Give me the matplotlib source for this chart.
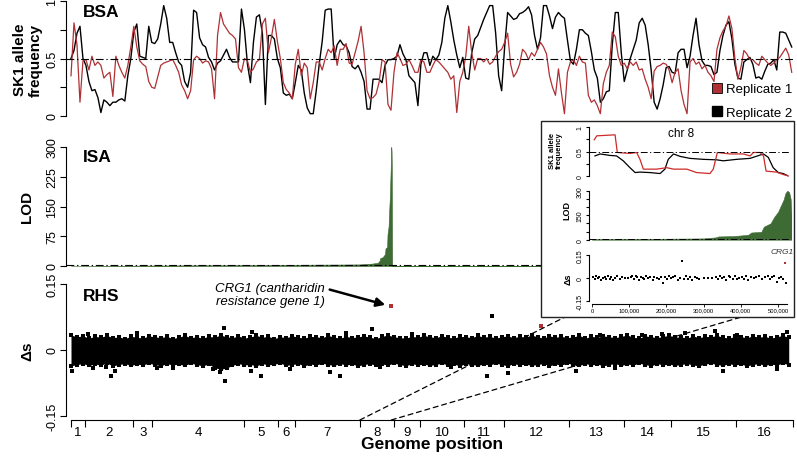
import numpy as np
import matplotlib
matplotlib.use('Agg')
import matplotlib.pyplot as plt
from matplotlib.patches import Rectangle, ConnectionPatch
from matplotlib.lines import Line2D

plt.rcParams['font.family'] = ['Liberation Sans', 'DejaVu Sans']

# ---- data ----
chrom_names = [str(i) for i in range(1, 17)]
chrom_kb = [230.2, 813.2, 316.6, 1531.9, 576.9, 270.2, 1090.9, 562.6,
            439.9, 745.8, 666.8, 1078.2, 924.4, 784.3, 1091.3, 948.1]

# BSA allele frequencies, one value every 0.05 Mb along the genome
bsa_step_mb = 0.05
bsa_rep1 = [0.35, 0.81, 0.62, 0.12, 0.48, 0.49, 0.40, 0.52, 0.44, 0.47,
            0.44, 0.33, 0.36, 0.38, 0.17, 0.52, 0.44, 0.38, 0.33, 0.44,
            0.60, 0.78, 0.60, 0.48, 0.45, 0.43, 0.30, 0.25, 0.24, 0.34,
            0.44, 0.46, 0.47, 0.48, 0.49, 0.44, 0.38, 0.27, 0.22, 0.15,
            0.22, 0.49, 0.52, 0.50, 0.46, 0.48, 0.47, 0.41, 0.15, 0.70,
            0.90, 0.80, 0.76, 0.72, 0.70, 0.67, 0.42, 0.38, 0.50,
            0.48, 0.38, 0.41, 0.47, 0.49, 0.80, 0.85, 0.55, 0.68, 0.84,
            0.65, 0.50, 0.29, 0.23, 0.20, 0.15, 0.45, 0.58, 0.35, 0.46,
            0.42, 0.15, 0.29, 0.47, 0.47, 0.40, 0.50, 0.58, 0.55, 0.61,
            0.44, 0.58, 0.58, 0.63, 0.46, 0.45, 0.55, 0.65, 0.78, 0.55,
            0.22, 0.15, 0.16, 0.19, 0.29, 0.49, 0.47, 0.10, 0.05, 0.38,
            0.55, 0.50, 0.44, 0.45, 0.49, 0.44, 0.38, 0.38, 0.49, 0.47, 0.38,
            0.38, 0.44, 0.49, 0.47, 0.44, 0.41, 0.38, 0.32, 0.35, 0.03,
            0.30, 0.38, 0.52, 0.78, 0.55, 0.40, 0.50, 0.50, 0.47, 0.50,
            0.45, 0.47, 0.52, 0.56, 0.58, 0.64, 0.72, 0.45, 0.34, 0.38,
            0.45, 0.58, 0.55, 0.49, 0.55, 0.52, 0.58, 0.64, 0.60, 0.54,
            0.35, 0.25, 0.18, 0.41, 0.20, 0.02, 0.38, 0.47, 0.49, 0.44,
            0.52, 0.47, 0.46, 0.18, 0.12, 0.14, 0.09, 0.02, 0.28, 0.38, 0.44,
            0.73, 0.69, 0.52, 0.44, 0.46, 0.41, 0.47, 0.44, 0.47, 0.40,
            0.41, 0.32, 0.25, 0.15, 0.39, 0.43, 0.44, 0.46, 0.45, 0.40,
            0.29, 0.38, 0.41, 0.22, 0.10, 0.02, 0.47, 0.50, 0.45, 0.47,
            0.41, 0.44, 0.38, 0.35, 0.30, 0.58, 0.68, 0.74, 0.78, 0.87,
            0.76, 0.50, 0.32, 0.42, 0.57, 0.54, 0.49, 0.49, 0.46, 0.44,
            0.52, 0.49, 0.46, 0.44, 0.46, 0.49, 0.51, 0.55, 0.59, 0.53, 0.38]
bsa_rep2 = [0.50, 0.57, 0.72, 0.78, 0.50, 0.44, 0.30, 0.22, 0.23, 0.16,
            0.03, 0.14, 0.12, 0.09, 0.12, 0.12, 0.14, 0.15, 0.13, 0.35,
            0.50, 0.73, 0.80, 0.52, 0.51, 0.50, 0.78, 0.64, 0.63, 0.67,
            0.80, 0.96, 0.85, 0.64, 0.64, 0.55, 0.47, 0.44, 0.30, 0.25,
            0.38, 0.92, 0.90, 0.68, 0.62, 0.60, 0.51, 0.47, 0.40, 0.46,
            0.48, 0.53, 0.58, 0.51, 0.47, 0.47, 0.47, 0.93, 0.75,
            0.45, 0.29, 0.64, 0.86, 0.88, 0.72, 0.10, 0.70, 0.70, 0.67,
            0.50, 0.42, 0.20, 0.18, 0.19, 0.15, 0.29, 0.44, 0.40, 0.20,
            0.07, 0.02, 0.02, 0.22, 0.45, 0.65, 0.92, 0.93, 0.93, 0.50,
            0.62, 0.66, 0.62, 0.61, 0.55, 0.43, 0.41, 0.44, 0.38, 0.30,
            0.06, 0.06, 0.32, 0.32, 0.32, 0.29, 0.44, 0.49, 0.49, 0.50,
            0.52, 0.62, 0.54, 0.49, 0.35, 0.32, 0.29, 0.09, 0.45, 0.55, 0.55,
            0.44, 0.52, 0.49, 0.53, 0.64, 0.85, 0.96, 0.82, 0.66, 0.53,
            0.42, 0.51, 0.33, 0.32, 0.55, 0.67, 0.70, 0.77, 0.84, 0.90,
            0.96, 0.96, 0.72, 0.35, 0.22, 0.60, 0.90, 0.87, 0.84, 0.85,
            0.89, 0.90, 0.92, 0.95, 0.88, 0.70, 0.58, 0.68, 0.96, 0.96,
            0.87, 0.76, 0.86, 0.90, 0.87, 0.85, 0.66, 0.48, 0.45, 0.58,
            0.75, 0.75, 0.72, 0.70, 0.56, 0.40, 0.33, 0.12, 0.15, 0.21, 0.22,
            0.62, 0.90, 0.90, 0.55, 0.30, 0.40, 0.50, 0.58, 0.66, 0.81,
            0.85, 0.79, 0.62, 0.40, 0.12, 0.06, 0.15, 0.27, 0.42, 0.43,
            0.38, 0.37, 0.55, 0.58, 0.58, 0.42, 0.52, 0.70, 0.85, 0.62,
            0.48, 0.44, 0.44, 0.43, 0.36, 0.38, 0.57, 0.70, 0.79, 0.82,
            0.67, 0.45, 0.33, 0.32, 0.47, 0.49, 0.51, 0.45, 0.33, 0.34,
            0.32, 0.39, 0.45, 0.46, 0.49, 0.40, 0.73, 0.73, 0.72, 0.66, 0.60]

# ISA LOD along chr 8 (kb, LOD); zero elsewhere
lod_kb = [0, 100, 200, 300, 332, 340, 380, 420, 428, 455, 462, 480, 490,
          500, 508, 515, 520, 525, 530, 534, 540]
lod_val = [4, 5, 6, 8, 14, 20, 22, 30, 44, 48, 80, 100, 140, 170, 210,
           245, 285, 300, 290, 250, 0]

# RHS: envelope of the dense delta-s cloud, every 0.1 Mb
rhs_step_mb = 0.1
rhs_upper = [0.034, 0.030, 0.032, 0.027, 0.031, 0.029, 0.033, 0.028, 0.030, 0.026,
             0.031, 0.029, 0.027, 0.032, 0.030, 0.028, 0.031, 0.026, 0.029, 0.033,
             0.028, 0.030, 0.027, 0.031, 0.029, 0.034, 0.030, 0.028, 0.032, 0.027,
             0.030, 0.033, 0.029, 0.031, 0.026, 0.030, 0.028, 0.032, 0.029, 0.027,
             0.031, 0.030, 0.028, 0.033, 0.029, 0.027, 0.031, 0.028, 0.030, 0.032,
             0.029, 0.026, 0.031, 0.034, 0.030, 0.028, 0.027, 0.031, 0.029, 0.033,
             0.030, 0.028, 0.032, 0.029, 0.027, 0.031, 0.030, 0.028, 0.033, 0.029,
             0.031, 0.027, 0.030, 0.032, 0.028, 0.031, 0.029, 0.034, 0.030, 0.027,
             0.032, 0.029, 0.031, 0.028, 0.030, 0.033, 0.027, 0.031, 0.029, 0.032,
             0.030, 0.028, 0.031, 0.034, 0.029, 0.027, 0.032, 0.030, 0.028, 0.031,
             0.033, 0.029, 0.030, 0.027, 0.032, 0.028, 0.031, 0.030, 0.033, 0.029,
             0.027, 0.031, 0.030, 0.028, 0.032, 0.029, 0.031, 0.027, 0.030, 0.033, 0.029]
rhs_lower = [-0.036, -0.033, -0.031, -0.035, -0.032, -0.034, -0.030, -0.036, -0.033, -0.031,
             -0.035, -0.032, -0.034, -0.030, -0.033, -0.036, -0.031, -0.034, -0.032, -0.035,
             -0.030, -0.033, -0.036, -0.032, -0.040, -0.044, -0.041, -0.035, -0.031, -0.034,
             -0.033, -0.036, -0.031, -0.034, -0.032, -0.030, -0.035, -0.033, -0.031, -0.036,
             -0.032, -0.034, -0.030, -0.033, -0.035, -0.031, -0.034, -0.032, -0.036, -0.033,
             -0.031, -0.035, -0.032, -0.034, -0.030, -0.033, -0.036, -0.031, -0.034, -0.032,
             -0.035, -0.033, -0.030, -0.034, -0.032, -0.036, -0.031, -0.033, -0.035, -0.032,
             -0.034, -0.030, -0.033, -0.036, -0.031, -0.034, -0.032, -0.035, -0.033, -0.031,
             -0.036, -0.032, -0.034, -0.030, -0.033, -0.035, -0.031, -0.034, -0.032, -0.036,
             -0.033, -0.031, -0.035, -0.032, -0.034, -0.030, -0.033, -0.036, -0.031, -0.034,
             -0.032, -0.035, -0.033, -0.031, -0.034, -0.036, -0.032, -0.030, -0.033, -0.035,
             -0.031, -0.034, -0.032, -0.036, -0.033, -0.031, -0.035, -0.032, -0.034, -0.030, -0.033]
rhs_out_mb = [0.01, 0.29, 0.36, 0.59, 0.67, 0.74, 1.11, 1.43, 1.71, 2.38,
              2.49, 2.56, 2.57, 3.01, 3.02, 3.18, 3.66, 4.33, 4.50, 4.60,
              5.04, 5.17, 5.70, 6.35, 6.95, 7.04, 7.31, 8.85, 8.44, 9.10,
              9.54, 9.88, 10.27, 10.77, 10.90, 11.13, 11.80, 11.97]
rhs_out_ds = [-0.047, 0.036, -0.042, -0.039, -0.060, -0.047, 0.039, -0.040, -0.042, -0.043,
              -0.049, 0.051, -0.071, -0.048, 0.040, -0.060, -0.043, -0.049, -0.060, 0.039,
              0.048, -0.038, 0.036, -0.039, -0.058, 0.077, -0.052, 0.035, -0.047, -0.040,
              0.034, 0.036, 0.038, 0.044, -0.047, 0.033, -0.043, 0.040]
crg1_kb, crg1_ds = 520, 0.10
hit2_mb, hit2_ds = 7.86, 0.055

# chr 8 inset
ins_red_kb = [6, 13, 62, 68, 102, 120, 129, 138, 174, 201, 219, 255, 281,
              317, 326, 337, 371, 407, 425, 434, 452, 461, 468, 496, 514, 528]
ins_red = [0.74, 0.82, 0.84, 0.48, 0.46, 0.48, 0.34, 0.14, 0.14, 0.17, 0.14,
           0.14, 0.07, 0.05, 0.14, 0.48, 0.45, 0.45, 0.41, 0.48, 0.48, 0.41,
           0.10, 0.08, 0.03, 0.0]
ins_blk_kb = [8, 22, 48, 66, 84, 102, 116, 129, 156, 183, 196, 205, 219,
              237, 263, 299, 335, 353, 389, 425, 461, 474, 487, 501, 514, 525]
ins_blk = [0.41, 0.45, 0.42, 0.41, 0.31, 0.17, 0.07, 0.08, 0.07, 0.05, 0.14,
           0.34, 0.45, 0.40, 0.36, 0.34, 0.33, 0.31, 0.34, 0.36, 0.45, 0.38,
           0.17, 0.07, 0.05, 0.01]
ins_ds_kb = [4, 8, 12, 16, 20, 25, 30, 34, 38, 43,
             48, 52, 57, 62, 68, 74, 80, 90, 96, 104,
             108, 113, 118, 122, 127, 131, 136, 140, 146, 151,
             157, 163, 168, 174, 180, 186, 191, 197, 202, 208,
             213, 219, 224, 230, 236, 241, 247, 252, 258, 264,
             270, 276, 282, 288, 300, 312, 322, 334, 340, 345,
             350, 356, 361, 367, 372, 378, 384, 390, 396, 402,
             408, 414, 420, 427, 436, 442, 450, 458, 466, 472,
             478, 484, 490, 496, 502, 508, 514, 522]
ins_ds = [0.004, -0.008, 0.010, -0.003, 0.006, -0.012, 0.002, 0.009, -0.006, 0.012,
          -0.004, 0.007, -0.010, 0.003, 0.011, -0.007, 0.005, 0.000, 0.000, 0.008,
          0.014, -0.005, 0.016, 0.009, -0.011, 0.006, 0.002, -0.008, 0.010, -0.003,
          0.007, -0.012, 0.004, 0.000, -0.006, 0.009, -0.035, 0.005, -0.009, 0.011,
          -0.002, 0.006, 0.015, -0.010, 0.003, 0.110, -0.007, 0.012, -0.004, 0.008,
          -0.011, 0.005, 0.001, -0.006, 0.000, 0.000, 0.000, 0.009, -0.008, 0.013,
          -0.003, 0.007, -0.012, 0.010, 0.004, -0.006, 0.012, -0.009, 0.002, 0.008,
          -0.005, 0.011, -0.010, 0.006, -0.002, 0.009, 0.014, -0.007, 0.004, 0.010,
          -0.008, 0.005, 0.012, -0.025, 0.003, 0.008, -0.006, -0.030]
ins_xticks_kb = [0, 100, 200, 300, 400, 500]
ins_xtick_labels = ['0', '100,000', '200,000', '300,000', '400,000', '500,000']

RED = '#b03035'
GREEN = '#3e6b34'
DASHDOT = (0, (7, 2.5, 1.2, 2.5))

# ---- layout helpers (pixel based) ----
W, H = 797, 460
fig = plt.figure(figsize=(W / 100, H / 100), dpi=100)


def px_axes(x0, y0, x1, y1, zorder=0):
    return fig.add_axes([x0 / W, 1 - y1 / H, (x1 - x0) / W, (y1 - y0) / H], zorder=zorder)


def lim_from(a0, a1, v1, p1, v2, p2):
    s = (v2 - v1) / (p2 - p1)
    return v1 + (a1 - p1) * s, v1 + (a0 - p1) * s


def r_style(ax, lo, hi, ticks, labels, size=9, length=4):
    for s in ['top', 'right', 'bottom']:
        ax.spines[s].set_visible(False)
    ax.spines['left'].set_bounds(lo, hi)
    ax.spines['left'].set_linewidth(0.8)
    ax.set_yticks(ticks)
    ax.set_yticklabels(labels)
    ax.tick_params(axis='y', direction='out', length=length, width=0.8,
                   labelsize=size, labelrotation=90, pad=1.5)
    for t in ax.get_yticklabels():
        t.set_va('center')
    ax.set_xticks([])


cum = np.concatenate([[0], np.cumsum(chrom_kb)]) / 1000.0
total_mb = cum[-1]
centers = (cum[:-1] + cum[1:]) / 2
ppm = (793 - 71) / total_mb
gx0, gx1 = 66, 795
glim = ((gx0 - 71) / ppm, total_mb + (gx1 - 793) / ppm)
chr8_mb = cum[7]

bsa_x = np.arange(len(bsa_rep1)) * bsa_step_mb
rhs_x = np.arange(len(rhs_upper)) * rhs_step_mb

# ---- BSA ----
ax1 = px_axes(gx0, 0, gx1, 122)
ax1.set_xlim(glim)
ax1.set_ylim(lim_from(0, 122, 0, 117, 1, 2))
ax1.plot(bsa_x, bsa_rep2, color='black', lw=1.0)
ax1.plot(bsa_x, bsa_rep1, color=RED, lw=0.9)
ax1.axhline(0.5, color='black', lw=0.8, ls=DASHDOT)
r_style(ax1, 0, 1, [0, 0.25, 0.5, 0.75, 1], ['0', '', '0.5', '', '1'])
ax1.text(0.2, 0.91, 'BSA', fontsize=12.5, fontweight='bold', va='center')

# ---- ISA ----
ax2 = px_axes(gx0, 140, gx1, 272)
ax2.set_xlim(glim)
ax2.set_ylim(lim_from(140, 272, 0, 267, 300, 148))
lx = np.concatenate([[0], chr8_mb + np.array(lod_kb) / 1000.0, [total_mb]])
ly = np.concatenate([[0], lod_val, [0]])
ax2.fill_between(lx, 0, ly, color=GREEN, lw=0.4)
ax2.axhline(2, color='black', lw=0.8, ls=DASHDOT)
r_style(ax2, 0, 300, [0, 75, 150, 225, 300], ['0', '75', '150', '225', '300'])
ax2.text(0.2, 277, 'ISA', fontsize=12.5, fontweight='bold', va='center')

# ---- RHS ----
ax3 = px_axes(gx0, 278, gx1, 421)
ax3.set_xlim(glim)
rhs_lim = lim_from(278, 421, 0.15, 285, -0.15, 417)
ax3.set_ylim(rhs_lim)
ax3.fill_between(rhs_x, rhs_lower, rhs_upper, color='black', lw=0)
ax3.scatter(rhs_x, rhs_upper, marker='s', s=6, color='black', lw=0)
ax3.scatter(rhs_x, rhs_lower, marker='s', s=6, color='black', lw=0)
ax3.scatter(rhs_out_mb, rhs_out_ds, marker='s', s=7, color='black', lw=0)
ax3.scatter([chr8_mb + crg1_kb / 1000.0, hit2_mb], [crg1_ds, hit2_ds],
            marker='s', s=7, color=RED, lw=0, zorder=3)
r_style(ax3, -0.15, 0.15, [-0.15, 0, 0.15], ['-0.15', '0', '0.15'])
ax3.spines['bottom'].set_visible(True)
ax3.spines['bottom'].set_bounds(0, total_mb)
ax3.spines['bottom'].set_linewidth(0.8)
ax3.set_xticks(cum)
ax3.set_xticklabels([])
ax3.set_xticks(centers, minor=True)
ax3.set_xticklabels(chrom_names, minor=True)
ax3.tick_params(axis='x', which='major', direction='out', length=5, width=0.8)
ax3.tick_params(axis='x', which='minor', length=0, labelsize=9.5, pad=4)
ax3.text(0.2, 0.123, 'RHS', fontsize=12.5, fontweight='bold', va='center')
ax3.text(3.33, 0.126, 'CRG1 (cantharidin\nresistance gene 1)', fontsize=9.5,
         style='italic', ha='center', va='center', linespacing=1.1)
ax3.annotate('', xy=(chr8_mb + 0.47, 0.101), xytext=(4.28, 0.139),
             arrowprops=dict(arrowstyle='-|>', lw=1.8, color='black', mutation_scale=13))

# ---- axis titles ----
fig.text(28 / W, 1 - 60 / H, 'SK1 allele\nfrequency', rotation=90, ha='center', va='center',
         fontsize=11, fontweight='bold', multialignment='center', linespacing=1.1)
fig.text(27 / W, 1 - 207 / H, 'LOD', rotation=90, ha='center', va='center',
         fontsize=11, fontweight='bold')
fig.text(27 / W, 1 - 351 / H, '\u0394s', rotation=90, ha='center', va='center',
         fontsize=11, fontweight='bold')
fig.text(432 / W, 1 - 445 / H, 'Genome position', ha='center', va='center',
         fontsize=12.5, fontweight='bold')

# ---- legend ----
handles = [Line2D([], [], ls='', marker='s', markersize=7, markerfacecolor=RED,
                  markeredgecolor='black', markeredgewidth=0.6),
           Line2D([], [], ls='', marker='s', markersize=7, markerfacecolor='black',
                  markeredgecolor='black')]
fig.legend(handles, ['Replicate 1', 'Replicate 2'], loc='upper left',
           bbox_to_anchor=(712 / W, 1 - 84 / H), frameon=False, fontsize=9.5,
           handlelength=0.7, handletextpad=0.35, labelspacing=0.85,
           borderaxespad=0, borderpad=0)

# ---- inset ----
box = Rectangle((541 / W, 1 - 318 / H), (794 - 541) / W, (318 - 122) / H,
                transform=fig.transFigure, facecolor='white', edgecolor='#222222',
                lw=1.0, zorder=4)
fig.add_artist(box)

ippk = (778 - 592) / 500.0
ilim = ((589 - 592) / ippk, (791 - 592) / ippk)

ai1 = px_axes(589, 124, 791, 180, zorder=5)
ai1.set_xlim(ilim)
ai1.set_ylim(lim_from(124, 180, 0, 177, 1, 128))
ai1.patch.set_alpha(0)
ai1.plot(ins_blk_kb, ins_blk, color='black', lw=0.9)
ai1.plot(ins_red_kb, ins_red, color='#cc2a2a', lw=0.9)
ai1.axhline(0.5, color='black', lw=0.7, ls=DASHDOT)
r_style(ai1, 0, 1, [0, 0.25, 0.5, 0.75, 1], ['0', '', '0.5', '', '1'], size=5, length=2.5)
ai1.text(240, 0.88, 'chr 8', fontsize=8.5, ha='center', va='center')

ai2 = px_axes(589, 186, 791, 243, zorder=5)
ai2.set_xlim(ilim)
ai2.set_ylim(lim_from(186, 243, 0, 240.7, 300, 191.7))
ai2.patch.set_alpha(0)
ai2.fill_between(lod_kb, 0, lod_val, color=GREEN, lw=0.4)
ai2.axhline(3, color='black', lw=0.7, ls=DASHDOT)
r_style(ai2, 0, 300, [0, 50, 100, 150, 200, 250, 300], ['0', '', '', '150', '', '', '300'],
        size=5, length=2.5)

ai3 = px_axes(589, 248, 791, 304.5, zorder=5)
ai3.set_xlim(ilim)
ins_lim = lim_from(248, 304.5, 0.15, 256, -0.15, 302)
ai3.set_ylim(ins_lim)
ai3.patch.set_alpha(0)
ai3.scatter(ins_ds_kb, ins_ds, marker='s', s=2.5, color='black', lw=0)
ai3.scatter([crg1_kb], [crg1_ds], marker='s', s=2.5, color=RED, lw=0)
ai3.text(511, 0.17, 'CRG1', fontsize=6, style='italic', ha='center', va='center', color='#333333')
r_style(ai3, -0.15, 0.15, [-0.15, 0, 0.15], ['-0.15', '0', '0.15'], size=5, length=2.5)
ai3.spines['bottom'].set_visible(True)
ai3.spines['bottom'].set_bounds(0, 525)
ai3.spines['bottom'].set_linewidth(0.8)
ai3.set_xticks(ins_xticks_kb)
ai3.set_xticklabels(ins_xtick_labels)
ai3.tick_params(axis='x', direction='out', length=2, width=0.6, labelsize=4.2, pad=1)

fig.text(556 / W, 1 - 151 / H, 'SK1 allele\nfrequency', rotation=90, ha='center', va='center',
         fontsize=5.5, fontweight='bold', multialignment='center', linespacing=1.1, zorder=6)
fig.text(567 / W, 1 - 211 / H, 'LOD', rotation=90, ha='center', va='center',
         fontsize=6.5, fontweight='bold', zorder=6)
fig.text(568 / W, 1 - 279 / H, '\u0394s', rotation=90, ha='center', va='center',
         fontsize=6.5, fontweight='bold', zorder=6)

# ---- zoom connectors ----
for gx, ix in [(chr8_mb, 0), (chr8_mb + 0.525, 525)]:
    con = ConnectionPatch(xyA=(gx, rhs_lim[0]), coordsA=ax3.transData,
                          xyB=(ix, ins_lim[0]), coordsB=ai3.transData,
                          color='black', lw=0.9, ls=(0, (4, 3)))
    con.set_zorder(3)
    fig.add_artist(con)

fig.savefig('out.png', dpi=100)
